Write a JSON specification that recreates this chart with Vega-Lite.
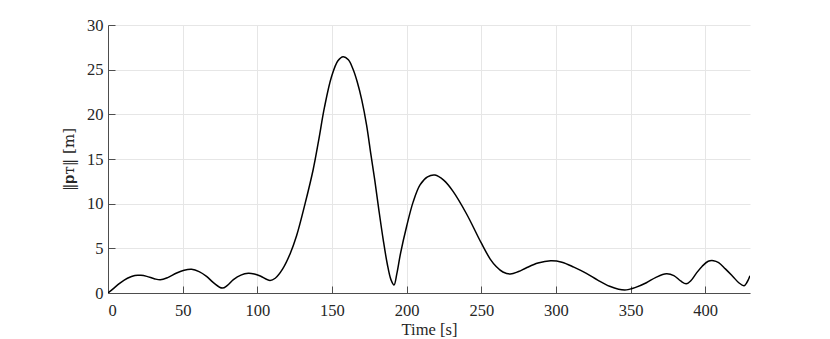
{
  "$schema": "https://vega.github.io/schema/vega-lite/v6.json",
  "autosize": {"type": "none"},
  "padding": {"left": 108, "top": 25, "right": 80, "bottom": 46},
  "width": 642,
  "height": 268,
  "background": "white",
  "config": {
    "view": {"stroke": null},
    "font": "Liberation Serif",
    "axis": {
      "domainColor": "#4d4d4d",
      "tickColor": "#4d4d4d",
      "gridColor": "#e6e6e6",
      "gridOpacity": 1,
      "labelFont": "Liberation Serif",
      "titleFont": "Liberation Serif",
      "labelFontSize": 16.5,
      "titleFontSize": 16.5,
      "labelColor": "#262626",
      "titleColor": "#262626",
      "titleFontWeight": "normal",
      "tickSize": -7,
      "domainWidth": 1,
      "tickWidth": 1
    }
  },
  "data": {
    "values": [
      {"t": 0, "v": 0},
      {"t": 4, "v": 0.55},
      {"t": 8, "v": 1.1},
      {"t": 13, "v": 1.65},
      {"t": 18, "v": 1.97},
      {"t": 22, "v": 1.98},
      {"t": 26, "v": 1.86},
      {"t": 31, "v": 1.6},
      {"t": 35, "v": 1.47},
      {"t": 40, "v": 1.72},
      {"t": 46, "v": 2.24},
      {"t": 51, "v": 2.55},
      {"t": 56, "v": 2.65},
      {"t": 61, "v": 2.4},
      {"t": 66, "v": 1.86},
      {"t": 71, "v": 1.1},
      {"t": 76.5, "v": 0.55},
      {"t": 80, "v": 0.85},
      {"t": 84, "v": 1.49},
      {"t": 89, "v": 2.0},
      {"t": 94, "v": 2.2},
      {"t": 98, "v": 2.12},
      {"t": 102, "v": 1.9},
      {"t": 108.5, "v": 1.4},
      {"t": 112, "v": 1.65},
      {"t": 117, "v": 2.7},
      {"t": 122, "v": 4.4},
      {"t": 126.3, "v": 6.4},
      {"t": 132, "v": 10.0},
      {"t": 137.4, "v": 13.8},
      {"t": 141, "v": 17.0},
      {"t": 145, "v": 20.8},
      {"t": 149.7, "v": 24.2},
      {"t": 154, "v": 26.0},
      {"t": 157.5, "v": 26.45},
      {"t": 161, "v": 26.1},
      {"t": 164, "v": 25.1},
      {"t": 167, "v": 23.6},
      {"t": 170, "v": 21.6},
      {"t": 173.2, "v": 18.8},
      {"t": 176, "v": 15.6},
      {"t": 178.7, "v": 12.6},
      {"t": 181.5, "v": 9.2},
      {"t": 184.3, "v": 6.0},
      {"t": 187, "v": 3.3},
      {"t": 189.5, "v": 1.5},
      {"t": 191.6, "v": 0.9},
      {"t": 193.5, "v": 2.2},
      {"t": 196, "v": 4.5},
      {"t": 200, "v": 7.45},
      {"t": 204.4, "v": 10.2},
      {"t": 209, "v": 12.1},
      {"t": 214, "v": 13.0},
      {"t": 219, "v": 13.2},
      {"t": 225, "v": 12.6},
      {"t": 231, "v": 11.4},
      {"t": 240, "v": 8.9},
      {"t": 250, "v": 5.6},
      {"t": 256, "v": 3.8},
      {"t": 260, "v": 2.97},
      {"t": 264.5, "v": 2.35},
      {"t": 269.5, "v": 2.12},
      {"t": 275, "v": 2.4},
      {"t": 280, "v": 2.8},
      {"t": 288, "v": 3.35},
      {"t": 296.5, "v": 3.6},
      {"t": 304, "v": 3.45},
      {"t": 312, "v": 2.9},
      {"t": 320.4, "v": 2.2},
      {"t": 328, "v": 1.45},
      {"t": 336, "v": 0.75},
      {"t": 342, "v": 0.42},
      {"t": 347.2, "v": 0.35},
      {"t": 353, "v": 0.6},
      {"t": 360.6, "v": 1.15},
      {"t": 367, "v": 1.75},
      {"t": 374, "v": 2.15},
      {"t": 379, "v": 1.95},
      {"t": 383.5, "v": 1.35},
      {"t": 387.3, "v": 1.03},
      {"t": 390.5, "v": 1.4},
      {"t": 394, "v": 2.2},
      {"t": 398, "v": 3.0},
      {"t": 402, "v": 3.55},
      {"t": 405.5, "v": 3.62},
      {"t": 409, "v": 3.4},
      {"t": 413.5, "v": 2.7},
      {"t": 418.5, "v": 1.85},
      {"t": 422.5, "v": 1.15},
      {"t": 426, "v": 0.82},
      {"t": 428, "v": 1.2},
      {"t": 430, "v": 1.93}
    ]
  },
  "mark": {"type": "line", "color": "black", "strokeWidth": 1.5, "interpolate": "catmull-rom", "clip": true},
  "encoding": {
    "x": {
      "field": "t",
      "type": "quantitative",
      "scale": {"domain": [0, 430], "nice": false, "zero": false},
      "axis": {"title": "Time [s]", "values": [0, 50, 100, 150, 200, 250, 300, 350, 400], "labelPadding": 16, "titlePadding": 3}
    },
    "y": {
      "field": "v",
      "type": "quantitative",
      "scale": {"domain": [0, 30], "nice": false},
      "axis": {"title": "‖𝐩ᴛ‖ [m]", "titleFont": "DejaVu Serif", "titleFontSize": 15, "values": [0, 5, 10, 15, 20, 25, 30], "labelPadding": 12, "titlePadding": 10}
    }
  }
}
